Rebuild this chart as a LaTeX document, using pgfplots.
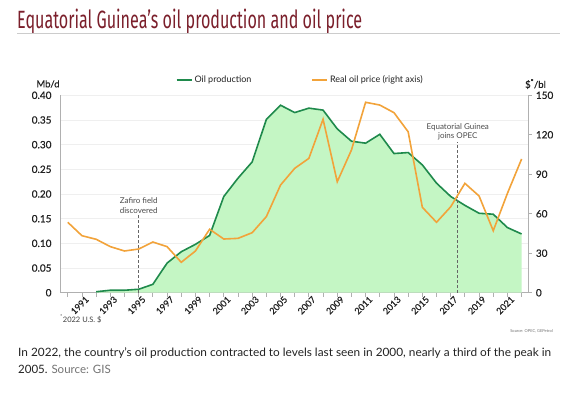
\documentclass[border=0pt]{standalone}
\usepackage{fontspec}
\setmainfont{Lato}
\newfontfamily\titlefont{Fira Sans}
\newfontfamily\tickfont{Lato}[FakeBold=0.6]
\usepackage{graphicx}
\usepackage{pgfplots}
\usepackage{pgfplotstable}
\pgfplotsset{compat=1.18}
\definecolor{prodgreen}{HTML}{1F8A4C}
\definecolor{prodfill}{HTML}{C4F6C4}
\definecolor{priceorange}{HTML}{F2A33A}
\definecolor{titlered}{HTML}{7B1F2B}
\definecolor{axisgray}{HTML}{B0B0B0}
\definecolor{gridgray}{HTML}{EFEFEF}
\definecolor{txt}{HTML}{222222}

\pgfplotstableread{
year prod
1992 0.002
1993 0.005
1994 0.005
1995 0.007
1996 0.017
1997 0.060
1998 0.083
1999 0.098
2000 0.116
2001 0.195
2002 0.232
2003 0.265
2004 0.351
2005 0.380
2006 0.365
2007 0.374
2008 0.370
2009 0.332
2010 0.307
2011 0.303
2012 0.321
2013 0.282
2014 0.284
2015 0.259
2016 0.222
2017 0.195
2018 0.177
2019 0.161
2020 0.159
2021 0.132
2022 0.119
}\prodtable

\pgfplotstableread{
year price
1990 53.5
1991 43.3
1992 40.6
1993 35.0
1994 31.7
1995 33.2
1996 38.5
1997 35.0
1998 23.1
1999 31.7
2000 48.2
2001 40.8
2002 41.3
2003 45.6
2004 57.8
2005 81.8
2006 94.5
2007 102.1
2008 131.8
2009 84.3
2010 108.4
2011 144.7
2012 142.6
2013 136.8
2014 122.3
2015 64.9
2016 53.5
2017 65.3
2018 83.1
2019 73.5
2020 47.1
2021 75.5
2022 101.6
}\pricetable

\begin{document}
\begin{tikzpicture}[x=1pt,y=1pt]
\path[use as bounding box, fill=white] (0,0) rectangle (575,-392);

% title
\node[anchor=base west, text=titlered, inner sep=0] at (17,-28)
  {\resizebox{345pt}{\height}{\titlefont\fontsize{25}{29}\selectfont Equatorial Guinea’s oil production and oil price}};
\draw[black!20, line width=0.8pt] (17,-33) -- (560,-33);

\begin{axis}[
  at={(60.7pt,-292.7pt)}, anchor=south west,
  scale only axis, width=468pt, height=197.4pt,
  xmin=1989.5, xmax=2022.5, ymin=0, ymax=0.40,
  axis x line*=bottom, axis y line*=left,
  axis line style={axisgray, line width=1pt, -},
  ytick={0,0.05,0.1,0.15,0.2,0.25,0.3,0.35,0.4},
  yticklabels={0,0.05,0.10,0.15,0.20,0.25,0.30,0.35,0.40},
  y tick style={draw=none},
  yticklabel style={font=\tickfont\fontsize{10}{11}\selectfont, text=txt, inner sep=0pt, xshift=-5pt},
  ymajorgrids, grid style={gridgray, line width=0.6pt},
  xtick={1991,1993,1995,1997,1999,2001,2003,2005,2007,2009,2011,2013,2015,2017,2019,2021},
  xticklabels={1991,1993,1995,1997,1999,2001,2003,2005,2007,2009,2011,2013,2015,2017,2019,2021},
  minor xtick={1990,1992,1994,1996,1998,2000,2002,2004,2006,2008,2010,2012,2014,2016,2018,2020,2022},
  x tick style={axisgray, line width=0.8pt},
  tick align=outside, major tick length=4pt, minor tick length=4pt,
  xticklabel style={rotate=45, anchor=north east, font=\tickfont\fontsize{9}{9}\selectfont, text=txt, inner sep=1pt, xshift=4pt},
  clip=false,
]
\addplot[draw=none, fill=prodfill] table[x=year, y=prod] {\prodtable} \closedcycle;
\addplot[prodgreen, line width=1.6pt] table[x=year, y=prod] {\prodtable};
\draw[black!60, dash pattern=on 3pt off 2pt, line width=0.7pt] (axis cs:1995,0) -- (axis cs:1995,0.157);
\draw[black!60, dash pattern=on 3pt off 2pt, line width=0.7pt] (axis cs:2017.5,0) -- (axis cs:2017.5,0.306);
\node[align=center, font=\fontsize{8}{9.5}\selectfont, text=black!70] at (axis cs:1995,0.177) {Zafiro field\\discovered};
\node[align=center, font=\fontsize{8}{9.5}\selectfont, text=black!70] at (axis cs:2017.5,0.326) {Equatorial Guinea\\joins OPEC};
\end{axis}

\begin{axis}[
  at={(60.7pt,-292.7pt)}, anchor=south west,
  scale only axis, width=468pt, height=197.4pt,
  xmin=1989.5, xmax=2022.5, ymin=0, ymax=150,
  axis x line=none, axis y line*=right,
  axis line style={axisgray, line width=1pt, -},
  ytick={0,30,60,90,120,150},
  yticklabels={0,30,60,90,120,150},
  y tick style={axisgray, line width=0.8pt},
  tick align=outside, major tick length=3pt,
  yticklabel style={font=\tickfont\fontsize{10}{11}\selectfont, text=txt, inner sep=0pt, xshift=4pt},
  legend style={at={(0.512,1.0775)}, anchor=center, draw=none, fill=none,
    legend columns=2, font=\fontsize{9}{10}\selectfont, text=txt,
    /tikz/every even column/.append style={column sep=58pt}},
  legend image code/.code={\draw[#1] (0pt,0pt) -- (15pt,0pt);},
]
\addlegendimage{prodgreen, line width=1.6pt}
\addlegendentry{Oil production}
\addplot[priceorange, line width=1.6pt] table[x=year, y=price] {\pricetable};
\addlegendentry{Real oil price (right axis)}
\end{axis}

% axis unit labels
\node[font=\tickfont\fontsize{9.5}{10}\selectfont, text=txt] at (48,-84) {Mb/d};
\node[font=\tickfont\fontsize{9.5}{10}\selectfont, text=txt] at (535.5,-84) {\$\textsuperscript{*}/bl};
\node[anchor=base west, font=\fontsize{7.5}{8}\selectfont, text=black!75, inner sep=0] at (60,-322) {\textsuperscript{*}2022 U.S. \$};
\node[anchor=east, font=\fontsize{4}{5}\selectfont, text=black!55, inner sep=0] at (553,-331) {Source: OPEC, GEPetrol};

% caption
\node[anchor=base west, inner sep=0, font=\fontsize{11.5}{13}\selectfont, text=txt] at (18,-356)
  {\resizebox{533pt}{\height}{In 2022, the country’s oil production contracted to levels last seen in 2000, nearly a third of the peak in}};
\node[anchor=base west, inner sep=0, font=\fontsize{11.5}{13}\selectfont, text=txt] at (18,-373)
  {2005. \textcolor{black!55}{Source: GIS}};
\end{tikzpicture}
\end{document}
